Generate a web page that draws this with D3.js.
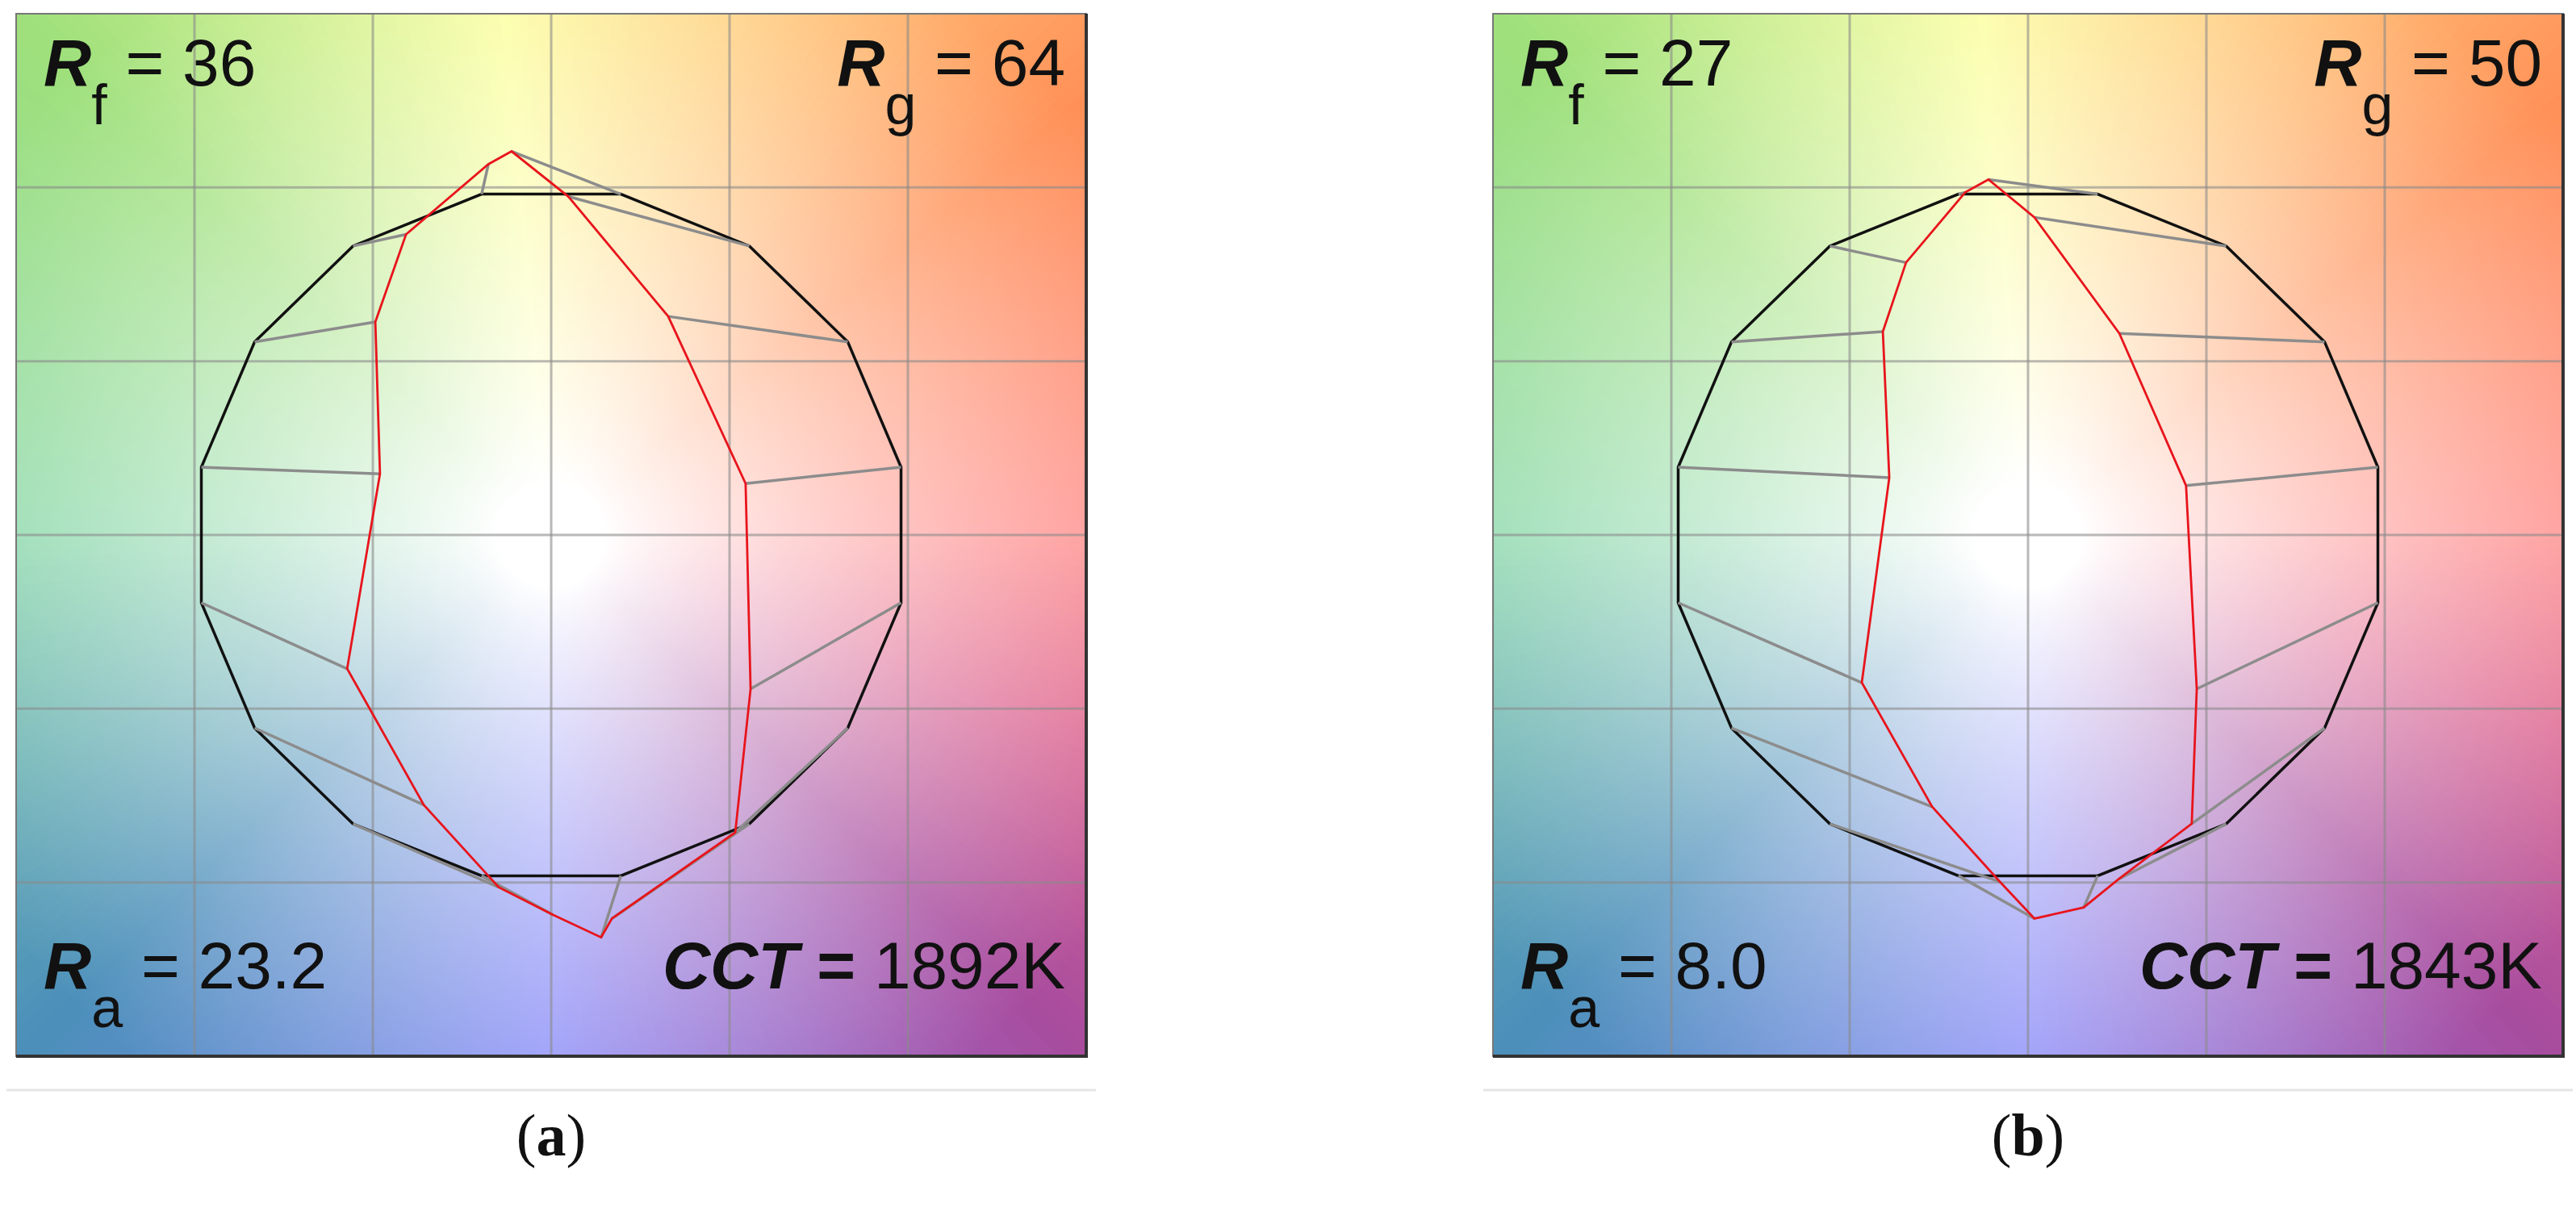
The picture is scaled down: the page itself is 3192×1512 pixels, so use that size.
<!DOCTYPE html>
<html>
<head>
<meta charset="utf-8">
<script src="https://cdn.jsdelivr.net/npm/d3@7"></script>
<style>
  body { margin: 0; background: #fff; }
  svg { display: block; }
</style>
</head>
<body>
<div id="canvas"></div>
<script>
// hue bin centre angles (deg) for the 16-bin vector graphic
const binAngles = d3.range(16).map(i => 11.25 + 22.5 * i);

// test source chroma points per bin (normalised, reference circle = 1)
const testA = [
  [0.545, 0.148], [0.328, 0.629], [0.048, 0.974], [-0.111, 1.104],
  [-0.176, 1.067], [-0.407, 0.865], [-0.493, 0.613], [-0.480, 0.176],
  [-0.572, -0.385], [-0.357, -0.777], [-0.147, -1.014], [0.005, -1.093],
  [0.140, -1.158], [0.170, -1.104], [0.516, -0.856], [0.559, -0.443]
];
const testB = [
  [0.443, 0.142], [0.256, 0.580], [0.018, 0.914], [-0.111, 1.023],
  [-0.176, 0.986], [-0.342, 0.784], [-0.407, 0.585], [-0.389, 0.165],
  [-0.466, -0.425], [-0.269, -0.782], [-0.079, -0.998], [0.018, -1.104],
  [0.156, -1.072], [0.253, -0.991], [0.459, -0.831], [0.473, -0.443]
];

const panelLabels = ["a", "b"];
const rfValues = ["36", "27"];
const rgValues = ["64", "50"];
const raValues = ["23.2", "8.0"];
const cctValues = ["1892K", "1843K"];
const gridTicks = [-1, -0.5, 0, 0.5, 1];

// background hue wheel stops (angle deg -> colour)
const hueStops = [
  [0, "#ff8e8c"], [40, "#ff9158"], [70, "#ffce80"], [95, "#fbfe9c"],
  [135, "#9fe07c"], [180, "#8ed9ac"], [225, "#4c8fba"], [270, "#8c8ef8"],
  [315, "#a84c9e"], [340, "#df6a92"], [360, "#ff8e8c"]
];

const width = 3192, height = 1512;
const svg = d3.select("#canvas").append("svg").attr("width", width).attr("height", height);

const panelLeft = [20, 1850];
const pw = 1326;
const yTop = 17, yBottom = 1309;

function hueColor(a) {
  for (let i = 0; i < hueStops.length - 1; i++) {
    const [a0, c0] = hueStops[i], [a1, c1] = hueStops[i + 1];
    if (a >= a0 && a <= a1) return d3.interpolateRgb(c0, c1)((a - a0) / (a1 - a0));
  }
  return hueStops[0][1];
}

// paint background once
const bg = document.createElement("canvas");
bg.width = pw; bg.height = yBottom - yTop;
const ctx = bg.getContext("2d");
const img = ctx.createImageData(bg.width, bg.height);
const lut = d3.range(361).map(a => d3.rgb(hueColor(a)));
for (let j = 0; j < bg.height; j++) {
  const yv = 1.5 - 3 * j / bg.height;
  for (let i = 0; i < bg.width; i++) {
    const xv = -1.5 + 3 * i / bg.width;
    let a = Math.atan2(yv, xv) * 180 / Math.PI; if (a < 0) a += 360;
    const r = Math.hypot(xv, yv);
    const t = Math.pow(Math.min(1, Math.max(0, (r - 0.15) / 1.75)), 0.85);
    const c = lut[Math.round(a)];
    const k = (j * bg.width + i) * 4;
    img.data[k] = 255 + (c.r - 255) * t;
    img.data[k + 1] = 255 + (c.g - 255) * t;
    img.data[k + 2] = 255 + (c.b - 255) * t;
    img.data[k + 3] = 255;
  }
}
ctx.putImageData(img, 0, 0);
const bgUrl = bg.toDataURL();

[testA, testB].forEach((test, p) => {
  const x0 = panelLeft[p];
  const x = d3.scaleLinear().domain([-1.5, 1.5]).range([x0, x0 + pw]);
  const y = d3.scaleLinear().domain([-1.5, 1.5]).range([yBottom, yTop]);
  const g = svg.append("g");

  g.append("image").attr("href", bgUrl)
    .attr("x", x0).attr("y", yTop).attr("width", pw).attr("height", yBottom - yTop)
    .attr("preserveAspectRatio", "none");

  // grid
  g.append("g").selectAll("line").data(gridTicks).join("line")
    .attr("x1", d => x(d)).attr("x2", d => x(d)).attr("y1", yTop).attr("y2", yBottom)
    .attr("stroke", "#8a8a8a").attr("stroke-opacity", 0.6).attr("stroke-width", 3);
  g.append("g").selectAll("line").data(gridTicks).join("line")
    .attr("y1", d => y(d)).attr("y2", d => y(d)).attr("x1", x0).attr("x2", x0 + pw)
    .attr("stroke", "#8a8a8a").attr("stroke-opacity", 0.6).attr("stroke-width", 3);

  const ref = binAngles.map(a => [Math.cos(a * Math.PI / 180), Math.sin(a * Math.PI / 180)]);
  const line = d3.line().x(d => x(d[0])).y(d => y(d[1])).curve(d3.curveLinearClosed);

  g.append("path").attr("d", line(ref)).attr("fill", "none")
    .attr("stroke", "#111").attr("stroke-width", 3.5);

  g.append("g").selectAll("line").data(test).join("line")
    .attr("x1", (d, i) => x(ref[i][0])).attr("y1", (d, i) => y(ref[i][1]))
    .attr("x2", d => x(d[0])).attr("y2", d => y(d[1]))
    .attr("stroke", "#8c8c8c").attr("stroke-width", 3.5);

  g.append("path").attr("d", line(test)).attr("fill", "none")
    .attr("stroke", "#e8141c").attr("stroke-width", 2.8);

  // frame
  g.append("rect").attr("x", x0).attr("y", yTop).attr("width", pw).attr("height", yBottom - yTop)
    .attr("fill", "none").attr("stroke", "#777").attr("stroke-width", 2);
  g.append("path")
    .attr("d", `M${x0},${yBottom}H${x0 + pw}V${yTop}`)
    .attr("fill", "none").attr("stroke", "#333").attr("stroke-width", 4);

  const fs = 82, font = "'Liberation Sans', Arial, sans-serif";
  function label(xp, yp, anchor, sub, val) {
    const t = g.append("text").attr("x", xp).attr("y", yp).attr("text-anchor", anchor)
      .attr("font-family", font).attr("font-size", fs).attr("fill", "#111");
    t.append("tspan").attr("font-weight", "bold").attr("font-style", "italic").text("R");
    t.append("tspan").attr("font-size", 70).attr("dy", 48).text(sub);
    t.append("tspan").attr("dy", -48).text(" = " + val);
  }
  label(x0 + 34, 106, "start", "f", rfValues[p]);
  label(x0 + pw - 26, 106, "end", "g", rgValues[p]);
  label(x0 + 34, 1225, "start", "a", raValues[p]);

  const c = g.append("text").attr("x", x0 + pw - 26).attr("y", 1225).attr("text-anchor", "end")
    .attr("font-family", font).attr("font-size", fs).attr("fill", "#111");
  c.append("tspan").attr("font-weight", "bold").attr("font-style", "italic").text("CCT");
  c.append("tspan").attr("font-weight", "bold").text(" = ");
  c.append("tspan").text(cctValues[p]);

  // separator and caption
  g.append("line").attr("x1", x0 - 12).attr("x2", x0 + pw + 12).attr("y1", 1351).attr("y2", 1351)
    .attr("stroke", "#e6e6e6").attr("stroke-width", 3);
  const cap = g.append("text").attr("x", x(0)).attr("y", 1432).attr("text-anchor", "middle")
    .attr("font-family", "'Liberation Serif', 'DejaVu Serif', serif").attr("font-size", 74).attr("fill", "#111");
  cap.append("tspan").text("(");
  cap.append("tspan").attr("font-weight", "bold").text(panelLabels[p]);
  cap.append("tspan").text(")");
});
</script>
</body>
</html>
